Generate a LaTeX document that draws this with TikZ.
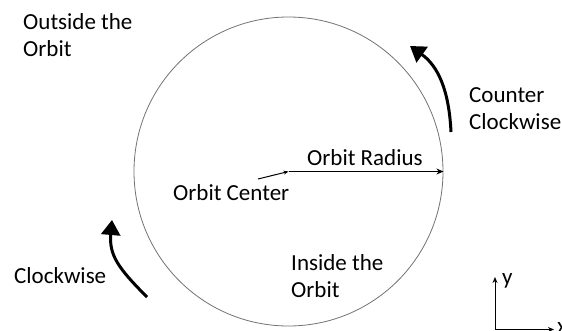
\documentclass[tikz,border=0pt]{standalone}
\usepackage{fontspec}
\setmainfont{Carlito}
\usetikzlibrary{arrows.meta}
\begin{document}
\begin{tikzpicture}[x=1pt,y=-1pt,
  lbl/.style={font=\fontsize{23}{27}\selectfont, inner sep=0pt, align=left},
  orbitline/.style={draw=black!55, line width=0.8pt},
  radiusarrow/.style={line width=1.6pt, -{Stealth[length=7pt,width=6pt]}},
  pointer/.style={line width=1pt, -{Stealth[length=5pt,width=4pt]}},
  turnarrow/.style={line width=3pt, -{Triangle[length=15pt,width=19pt]}},
  axisarrow/.style={line width=1pt, -{Stealth[length=6pt,width=5pt]}}]
\useasboundingbox (0,0) rectangle (562,330);
\node[circle, orbitline, minimum size=309pt, inner sep=0pt] (orbit) at (288.5,171.5) {};
\draw[radiusarrow] (orbit.center) -- (orbit.east);
\node[lbl, anchor=base west] (radlbl) at (307,165) {Orbit Radius};
\node[lbl, anchor=base west] (cenlbl) at (173,200) {Orbit Center};
\coordinate (ctail) at (258,179);
\draw[pointer] (ctail) -- (orbit.center);
\node[lbl, anchor=base west] (outside) at (23,56) {Outside the\\Orbit};
\node[lbl, anchor=base west] (inside) at (291,297) {Inside the\\Orbit};
\node[lbl, anchor=base west] (ccw) at (469,129) {Counter\\Clockwise};
\node[lbl, anchor=base west] (cw) at (14,283) {Clockwise};
\coordinate (ccwtail) at (451,132);
\coordinate (ccwtip) at (410,46);
\draw[turnarrow] (ccwtail) .. controls (449,90) and (438,66) .. (ccwtip);
\coordinate (cwtail) at (147,297);
\coordinate (cwtip) at (112,220);
\draw[turnarrow] (cwtail) .. controls (118,268) and (109,255) .. (cwtip);
\coordinate (origin) at (495,329.5);
\coordinate (ytip) at (495,277);
\coordinate (xtip) at (554,329.5);
\draw[axisarrow] (origin) -- (ytip);
\draw[axisarrow] (origin) -- (xtip);
\node[lbl, anchor=base west] (ylbl) at (502,284) {y};
\node[lbl, anchor=base west] (xlbl) at (557,333) {x};
\end{tikzpicture}
\end{document}
